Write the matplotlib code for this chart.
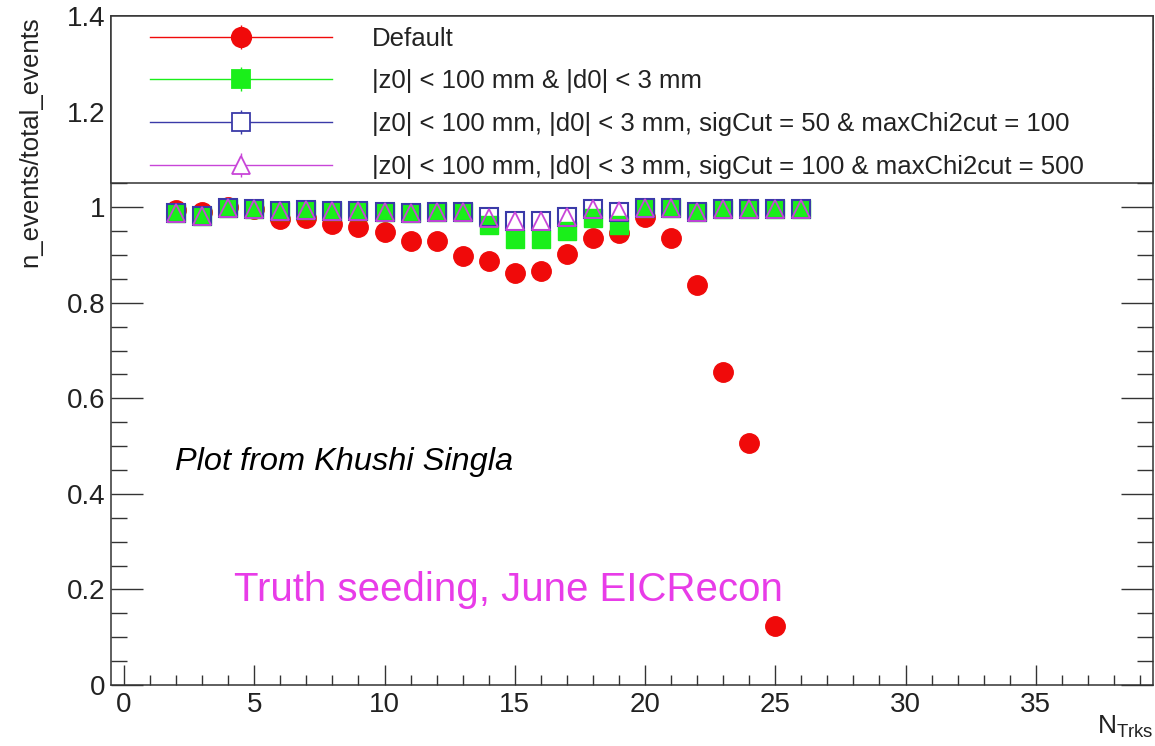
import matplotlib
matplotlib.use("Agg")
import matplotlib.pyplot as plt
from matplotlib.lines import Line2D
from matplotlib.legend_handler import HandlerTuple
from matplotlib.patches import Rectangle
from matplotlib.ticker import MultipleLocator, FuncFormatter

plt.rcParams['font.family'] = ['Liberation Sans', 'DejaVu Sans']
plt.rcParams['mathtext.fontset'] = 'custom'
plt.rcParams['mathtext.rm'] = 'Liberation Sans'
plt.rcParams['mathtext.it'] = 'Liberation Sans:italic'

# fraction of events kept vs number of tracks
ntrks_default = [2, 3, 4, 5, 6, 7, 8, 9, 10, 11, 12, 13, 14, 15, 16, 17, 18, 19, 20, 21, 22, 23, 24, 25]
eff_default = [0.995, 0.99, 1.0, 0.997, 0.975, 0.978, 0.965, 0.958, 0.947, 0.929, 0.929, 0.898,
               0.887, 0.863, 0.866, 0.902, 0.935, 0.945, 0.98, 0.935, 0.837, 0.654, 0.506, 0.124]

ntrks_cuts = [2, 3, 4, 5, 6, 7, 8, 9, 10, 11, 12, 13, 14, 15, 16, 17, 18, 19, 20, 21, 22, 23, 24, 25, 26]
eff_z0d0 = [0.987, 0.982, 0.998, 0.996, 0.991, 0.994, 0.991, 0.991, 0.989, 0.987, 0.99, 0.989,
            0.962, 0.934, 0.934, 0.95, 0.977, 0.963, 0.998, 0.998, 0.99, 0.997, 0.997, 0.997, 0.997]
eff_sig50 = [0.987, 0.982, 0.998, 0.996, 0.991, 0.994, 0.991, 0.991, 0.989, 0.987, 0.99, 0.989,
             0.979, 0.970, 0.970, 0.979, 0.996, 0.989, 0.998, 0.998, 0.99, 0.997, 0.997, 0.997, 0.997]
eff_sig100 = [0.987, 0.982, 0.998, 0.996, 0.991, 0.994, 0.991, 0.991, 0.989, 0.987, 0.99, 0.989,
              0.977, 0.971, 0.971, 0.979, 0.996, 0.991, 0.998, 0.998, 0.99, 0.997, 0.997, 0.997, 0.997]

labels = ["Default",
          "|z0| < 100 mm & |d0| < 3 mm",
          "|z0| < 100 mm, |d0| < 3 mm, sigCut = 50 & maxChi2cut = 100",
          "|z0| < 100 mm, |d0| < 3 mm, sigCut = 100 & maxChi2cut = 500"]

red = '#f00a0a'
green = '#1aef1a'
blue = '#3a3aa8'
magenta = '#c845d8'

fig = plt.figure(figsize=(11.55, 7.46), dpi=100)
ax = fig.add_axes([111 / 1155, 61 / 746, 1042 / 1155, 669 / 746])

ax.plot(ntrks_default, eff_default, ls='none', marker='o', ms=14, color=red, mec=red, zorder=2)
ax.plot(ntrks_cuts, eff_z0d0, ls='none', marker='s', ms=13.5, color=green, mec=green, zorder=2.1)
ax.plot(ntrks_cuts, eff_sig50, ls='none', marker='s', ms=13, mfc='none', mec=blue, mew=1.5, zorder=2.2)
ax.plot(ntrks_cuts, eff_sig100, ls='none', marker='^', ms=13, mfc='none', mec=magenta, mew=1.3, zorder=2.3)

ax.set_xlim(-0.5, 39.5)
ax.set_ylim(0, 1.4)

ax.xaxis.set_major_locator(MultipleLocator(5))
ax.xaxis.set_minor_locator(MultipleLocator(1))
ax.yaxis.set_major_locator(MultipleLocator(0.2))
ax.yaxis.set_minor_locator(MultipleLocator(0.05))
ax.yaxis.set_major_formatter(FuncFormatter(lambda v, p: '%g' % round(v, 2)))

ax.tick_params(axis='both', which='both', direction='in', top=True, right=True,
               color='#333333', labelcolor='#222222')
ax.tick_params(axis='x', which='major', length=14.4, width=1, pad=5, labelsize=20)
ax.tick_params(axis='x', which='minor', length=7.2, width=1)
ax.tick_params(axis='y', which='major', length=23, width=1, pad=4, labelsize=20)
ax.tick_params(axis='y', which='minor', length=11.5, width=1)
for sp in ax.spines.values():
    sp.set_linewidth(1.1)
    sp.set_color('#333333')

# legend box across the top of the frame (x in axes units, y in data units)
ax.add_patch(Rectangle((0, 1.05), 1, 0.35, transform=ax.get_yaxis_transform(),
                       fc='white', ec='#333333', lw=1.1, zorder=3, clip_on=False))


def legend_handle(color, marker, filled, ms):
    bar = Line2D([], [], ls='none', marker='|', ms=17, mew=1, color=color)
    mk = Line2D([], [], lw=1, color=color, marker=marker, ms=ms,
                mfc=color if filled else 'white', mec=color, mew=1.3)
    return (bar, mk)


handles = [legend_handle(red, 'o', True, 14),
           legend_handle(green, 's', True, 13.5),
           legend_handle(blue, 's', False, 13),
           legend_handle(magenta, '^', False, 13)]
ax.legend(handles, labels, handler_map={tuple: HandlerTuple(ndivide=1)},
          loc='upper left', bbox_to_anchor=(0.037, 0.984), frameon=False,
          fontsize=18.5, handlelength=7.12, handletextpad=1.52, labelspacing=0.73,
          borderpad=0, borderaxespad=0, numpoints=1, labelcolor='#222222')

ax.text(1.94, 0.4665, 'Plot from Khushi Singla', fontsize=23.4, style='italic',
        ha='left', va='center', color='black')
ax.text(25.3, 0.199, 'Truth seeding, June EICRecon', fontsize=29,
        ha='right', va='center', color='#e83ce8')

fig.text(30 / 1155, 1 - 16 / 746, 'n_events/total_events', rotation=90,
         ha='center', va='top', fontsize=18.5, color='#222222')
fig.text(1154 / 1155, 1 - 727 / 746, r'$\mathregular{N_{Trks}}$', ha='right',
         va='center', fontsize=19, color='#222222')

fig.savefig('out.png', dpi=100)
